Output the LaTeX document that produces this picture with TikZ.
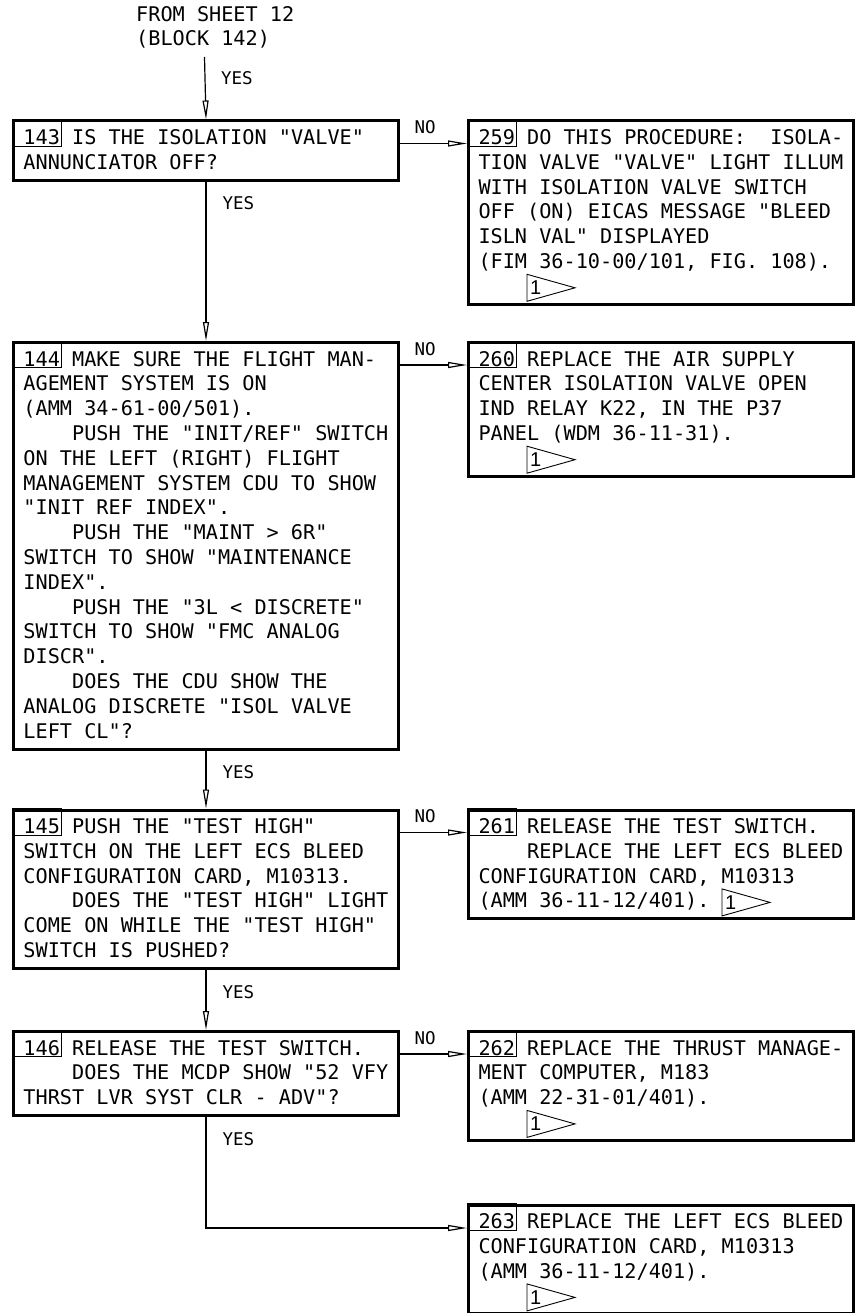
\documentclass[tikz,border=0pt]{standalone}
\usepackage{fontspec}
\newfontfamily\chartfont{DejaVu Sans Mono}
\newfontfamily\flagfont{Liberation Sans}
\usetikzlibrary{arrows.meta,calc}
\newcommand{\indt}{\hspace*{48.6pt}}
\newcommand{\flagmark}[2]{%
    \node[flagnum] (#1) at (#2) {1};
    \draw[flagline] (#1.west) ++(0,-13.5) -- ++(0,27) -- ++(48,-13.5) -- cycle;
}
\begin{document}
\begin{tikzpicture}[x=1pt,y=-1pt,
    txt/.style={font=\chartfont\fontsize{20.2}{24.8}\selectfont},
    lbl/.style={font=\chartfont\fontsize{17.5}{20}\selectfont, inner sep=0pt},
    block/.style={txt, draw, line width=3pt, anchor=north west, text width=373pt,
        inner xsep=6pt, inner ysep=0pt, align=left,
        execute at begin node={\frenchspacing\spaceskip=0.602em\xspaceskip=0.602em
            \leftskip=4pt\noindent\rule{0pt}{23.5pt}},
        execute at end node={\rule[-11pt]{0pt}{11pt}}},
    conn/.style={line width=1.2pt},
    arr/.style={conn, -{Triangle[open,length=19pt,width=6pt]}},
    numline/.style={line width=0.9pt},
    flagnum/.style={font=\flagfont\fontsize{20}{20}\selectfont, anchor=west, inner xsep=3pt, inner ysep=0pt},
    flagline/.style={line width=0.9pt},
    yes/.style={lbl, at start, anchor=base west, xshift=16pt, yshift=-28pt},
    no/.style={lbl, at start, anchor=base west, xshift=14pt, yshift=10pt}]
    \useasboundingbox (0,0) rectangle (855,1313);

    \node[txt, align=left, anchor=north west, inner sep=0pt] (from) at (136,6) {FROM SHEET 12\\(BLOCK 142)};
    \coordinate (start) at (204.5,57);

    \node[block] (b143) at (12,119.5) {143 IS THE ISOLATION "VALVE"\\
        ANNUNCIATOR OFF?};
    \node[block] (b259) at (467,119.5) {259 DO THIS PROCEDURE:~ ISOLA-\\
        TION VALVE "VALVE" LIGHT ILLUM\\
        WITH ISOLATION VALVE SWITCH\\
        OFF (ON) EICAS MESSAGE "BLEED\\
        ISLN VAL" DISPLAYED\\
        (FIM 36-10-00/101, FIG. 108).\\};
    \node[block] (b144) at (12,341) {144 MAKE SURE THE FLIGHT MAN-\\
        AGEMENT SYSTEM IS ON\\
        (AMM 34-61-00/501).\\
        \indt PUSH THE "INIT/REF" SWITCH\\
        ON THE LEFT (RIGHT) FLIGHT\\
        MANAGEMENT SYSTEM CDU TO SHOW\\
        "INIT REF INDEX".\\
        \indt PUSH THE "MAINT > 6R"\\
        SWITCH TO SHOW "MAINTENANCE\\
        INDEX".\\
        \indt PUSH THE "3L < DISCRETE"\\
        SWITCH TO SHOW "FMC ANALOG\\
        DISCR".\\
        \indt DOES THE CDU SHOW THE\\
        ANALOG DISCRETE "ISOL VALVE\\
        LEFT CL"?};
    \node[block] (b260) at (467,341) {260 REPLACE THE AIR SUPPLY\\
        CENTER ISOLATION VALVE OPEN\\
        IND RELAY K22, IN THE P37\\
        PANEL (WDM 36-11-31).\\};
    \node[block] (b145) at (12,808.5) {145 PUSH THE "TEST HIGH"\\
        SWITCH ON THE LEFT ECS BLEED\\
        CONFIGURATION CARD, M10313.\\
        \indt DOES THE "TEST HIGH" LIGHT\\
        COME ON WHILE THE "TEST HIGH"\\
        SWITCH IS PUSHED?};
    \node[block] (b261) at (467,808.5) {261 RELEASE THE TEST SWITCH.\\
        \indt REPLACE THE LEFT ECS BLEED\\
        CONFIGURATION CARD, M10313\\
        (AMM 36-11-12/401).};
    \node[block] (b146) at (12,1030) {146 RELEASE THE TEST SWITCH.\\
        \indt DOES THE MCDP SHOW "52 VFY\\
        THRST LVR SYST CLR - ADV"?};
    \node[block] (b262) at (467,1030) {262 REPLACE THE THRUST MANAGE-\\
        MENT COMPUTER, M183\\
        (AMM 22-31-01/401).\\};
    \node[block] (b263) at (467,1203.5) {263 REPLACE THE LEFT ECS BLEED\\
        CONFIGURATION CARD, M10313\\
        (AMM 36-11-12/401).\\};

    \foreach \bb in {143,259,144,260,145,261,146,262,263} {
        \draw[numline] (b\bb.north west) rectangle ++(49,26.5);
    }

    \flagmark{f259}{$(b259.south west)+(60,-18)$}
    \flagmark{f260}{$(b260.south west)+(60,-18)$}
    \flagmark{f261}{$(b261.south west)+(255,-18)$}
    \flagmark{f262}{$(b262.south west)+(60,-18)$}
    \flagmark{f263}{$(b263.south west)+(60,-18)$}

    \draw[arr] (start) -- node[yes] {YES} (b143.north);
    \draw[arr] (b143.south) -- node[yes] {YES} (b144.north);
    \draw[arr] (b144.south) -- node[yes] {YES} (b145.north);
    \draw[arr] (b145.south) -- node[yes] {YES} (b146.north);

    \foreach \qb/\rb in {143/259,144/260,145/261,146/262} {
        \coordinate (t\rb) at ($(b\rb.north west)+(0,24)$);
        \draw[arr] (b\qb.east |- t\rb) -- node[no] {NO} (t\rb);
    }
    \coordinate (t263) at ($(b263.north west)+(0,24.5)$);
    \draw[arr] (b146.south) |- node[yes] {YES} (t263);
\end{tikzpicture}
\end{document}
